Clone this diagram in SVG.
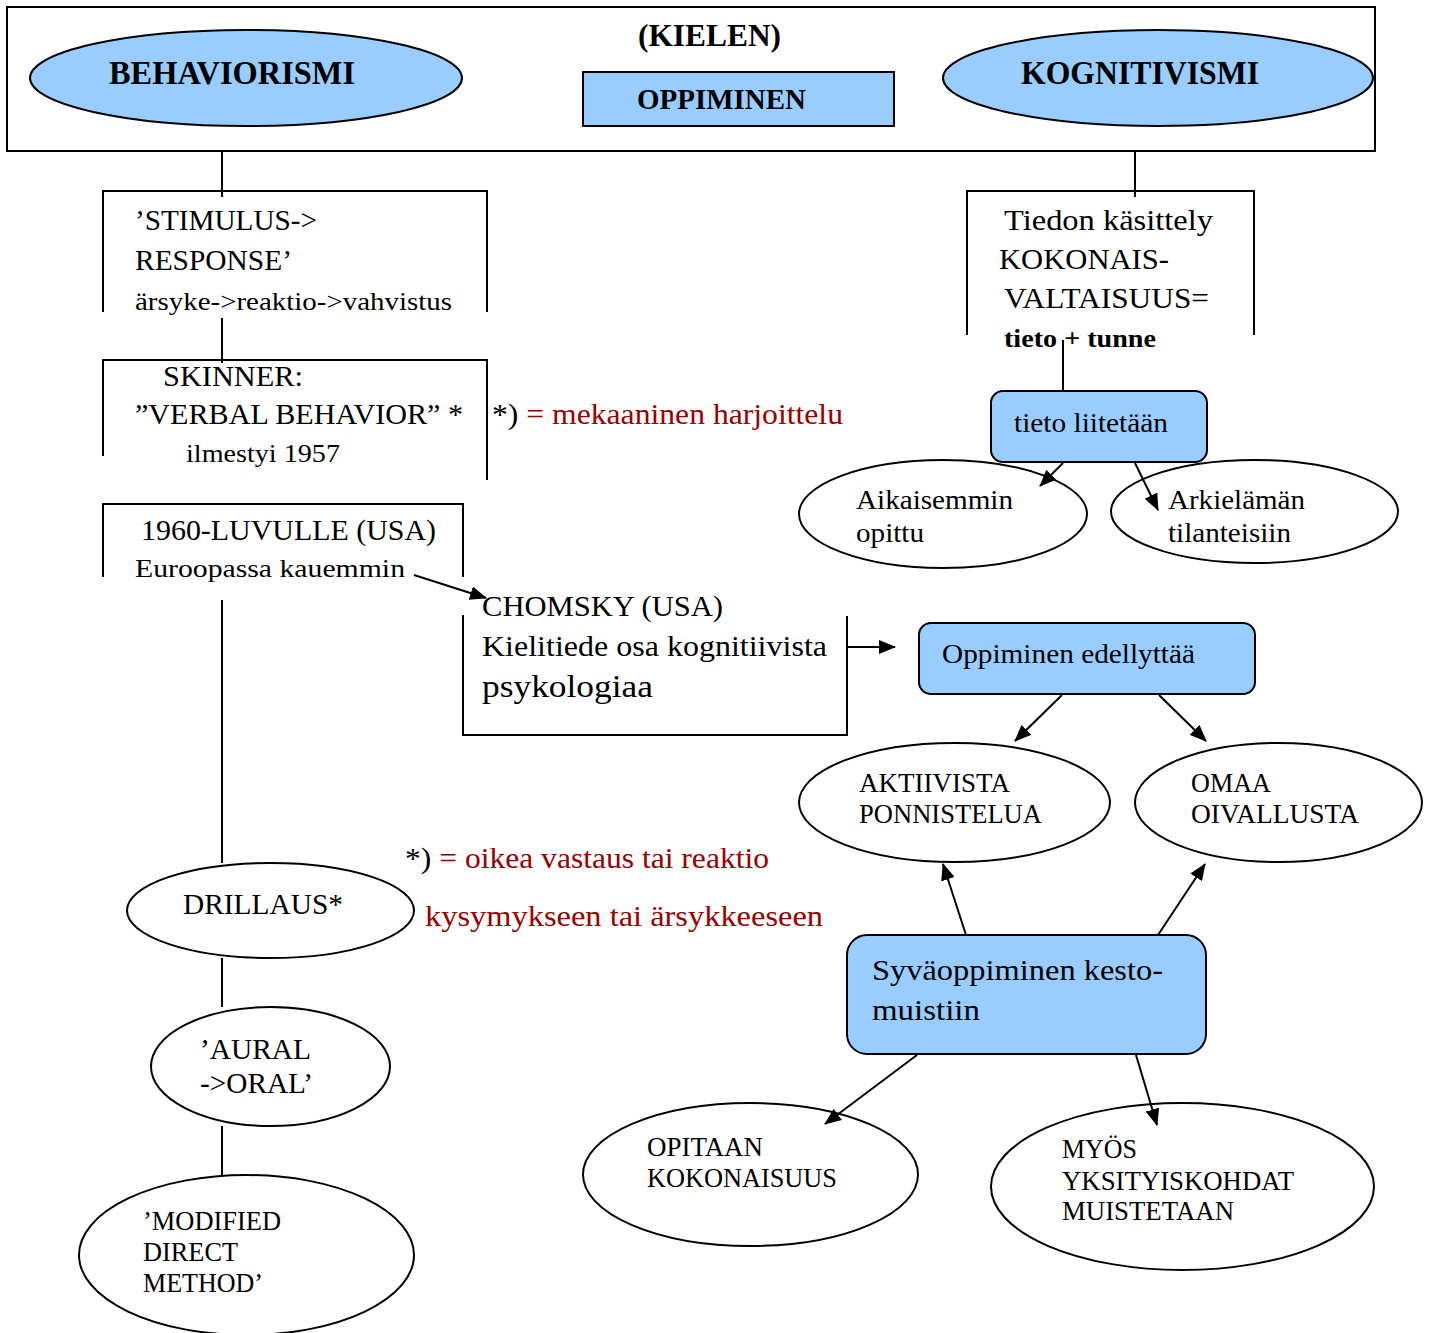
<svg xmlns="http://www.w3.org/2000/svg" width="1429" height="1333" viewBox="0 0 1429 1333">
<style>
text{font-family:"Liberation Serif","Times New Roman",serif;fill:#000}
.b{font-weight:bold}
.red{fill:#990000}
.blue{fill:#99CCFF;stroke:#000;stroke-width:2}
.wh{fill:#fff;stroke:#000;stroke-width:2}
.br{fill:none;stroke:#000;stroke-width:2}
.ln{fill:none;stroke:#000;stroke-width:2}
.ar{fill:none;stroke:#000;stroke-width:2;marker-end:url(#ah)}
</style>
<defs>
<marker id="ah" markerUnits="userSpaceOnUse" markerWidth="18" markerHeight="14" refX="16" refY="7" orient="auto">
<path d="M0,0 L17,7 L0,14 Z" fill="#000"/>
</marker>
</defs>
<rect width="1429" height="1333" fill="#fff"/>

<g id="header">
<rect x="7" y="7" width="1368" height="144" fill="#fff" stroke="#000" stroke-width="2"/>
<text class="b" x="638" y="46" font-size="32" textLength="143" lengthAdjust="spacingAndGlyphs">(KIELEN)</text>
</g>
<g id="behaviorismi">
<ellipse class="blue" cx="246" cy="78" rx="216" ry="48"/>
<text class="b" x="109" y="84" font-size="33" textLength="246" lengthAdjust="spacingAndGlyphs">BEHAVIORISMI</text>
</g>
<g id="oppiminen">
<rect class="blue" x="583" y="72" width="311" height="54"/>
<text class="b" x="637" y="109" font-size="30" textLength="169" lengthAdjust="spacingAndGlyphs">OPPIMINEN</text>
</g>
<g id="kognitivismi">
<ellipse class="blue" cx="1158" cy="78" rx="215" ry="48"/>
<text class="b" x="1021" y="84" font-size="33" textLength="238" lengthAdjust="spacingAndGlyphs">KOGNITIVISMI</text>
</g>

<g id="stimulus">
<path class="br" d="M103,312 V191 H487 V312"/>
<text x="135" y="230" font-size="29" textLength="182" lengthAdjust="spacingAndGlyphs">’STIMULUS-&gt;</text>
<text x="135" y="270" font-size="29" textLength="157" lengthAdjust="spacingAndGlyphs">RESPONSE’</text>
<text x="135" y="310" font-size="26" textLength="317" lengthAdjust="spacingAndGlyphs">ärsyke-&gt;reaktio-&gt;vahvistus</text>
</g>
<g id="skinner">
<path class="br" d="M103,456 V360 H487 V480"/>
<text x="163" y="386" font-size="29" textLength="140" lengthAdjust="spacingAndGlyphs">SKINNER:</text>
<text x="135" y="424" font-size="29" textLength="328" lengthAdjust="spacingAndGlyphs">”VERBAL BEHAVIOR” *</text>
<text x="186" y="462" font-size="26" textLength="154" lengthAdjust="spacingAndGlyphs">ilmestyi 1957</text>
</g>
<g id="note1">
<text x="492" y="424" font-size="29" textLength="351" lengthAdjust="spacingAndGlyphs">*) <tspan class="red">= mekaaninen harjoittelu</tspan></text>
</g>
<g id="luvulle">
<path class="br" d="M103,577 V504 H463 V577"/>
<text x="141" y="540" font-size="29" textLength="295" lengthAdjust="spacingAndGlyphs">1960-LUVULLE (USA)</text>
<text x="135" y="577" font-size="26" textLength="270" lengthAdjust="spacingAndGlyphs">Euroopassa kauemmin</text>
</g>
<g id="chomsky">
<path class="br" d="M463,615 V735 H847 V616"/>
<text x="482" y="616" font-size="29" textLength="241" lengthAdjust="spacingAndGlyphs">CHOMSKY (USA)</text>
<text x="482" y="656" font-size="29" textLength="345" lengthAdjust="spacingAndGlyphs">Kielitiede osa kognitiivista</text>
<text x="482" y="697" font-size="31" textLength="171" lengthAdjust="spacingAndGlyphs">psykologiaa</text>
</g>

<g id="tiedon">
<path class="br" d="M967,335 V191 H1254 V335"/>
<text x="1004" y="230" font-size="29" textLength="209" lengthAdjust="spacingAndGlyphs">Tiedon käsittely</text>
<text x="999" y="269" font-size="29" textLength="170" lengthAdjust="spacingAndGlyphs">KOKONAIS-</text>
<text x="1004" y="308" font-size="29" textLength="205" lengthAdjust="spacingAndGlyphs">VALTAISUUS=</text>
<text class="b" x="1004" y="347" font-size="25" textLength="152" lengthAdjust="spacingAndGlyphs">tieto + tunne</text>
</g>
<g id="liitetaan">
<rect class="blue" x="991" y="391" width="216" height="71" rx="12"/>
<text x="1014" y="432" font-size="28" textLength="154" lengthAdjust="spacingAndGlyphs">tieto liitetään</text>
</g>
<g id="aikaisemmin">
<ellipse class="br" cx="943" cy="514" rx="144" ry="54"/>
<text x="856" y="509" font-size="28" textLength="157" lengthAdjust="spacingAndGlyphs">Aikaisemmin</text>
<text x="856" y="542" font-size="28" textLength="68" lengthAdjust="spacingAndGlyphs">opittu</text>
</g>
<g id="arkielaman">
<ellipse class="br" cx="1254.5" cy="511.5" rx="143.5" ry="51.5"/>
<text x="1168" y="509" font-size="28" textLength="137" lengthAdjust="spacingAndGlyphs">Arkielämän</text>
<text x="1168" y="542" font-size="28" textLength="123" lengthAdjust="spacingAndGlyphs">tilanteisiin</text>
</g>

<g id="edellyttaa">
<rect class="blue" x="919" y="623" width="336" height="71" rx="12"/>
<text x="942" y="663" font-size="28" textLength="253" lengthAdjust="spacingAndGlyphs">Oppiminen edellyttää</text>
</g>
<g id="aktiivista">
<ellipse class="wh" cx="954.5" cy="802.5" rx="155.5" ry="59.5"/>
<text x="859" y="792" font-size="28" textLength="151" lengthAdjust="spacingAndGlyphs">AKTIIVISTA</text>
<text x="859" y="823" font-size="28" textLength="183" lengthAdjust="spacingAndGlyphs">PONNISTELUA</text>
</g>
<g id="omaa">
<ellipse class="wh" cx="1278.5" cy="802.5" rx="143.5" ry="59.5"/>
<text x="1191" y="792" font-size="28" textLength="80" lengthAdjust="spacingAndGlyphs">OMAA</text>
<text x="1191" y="823" font-size="28" textLength="168" lengthAdjust="spacingAndGlyphs">OIVALLUSTA</text>
</g>
<g id="syvaoppiminen">
<rect class="blue" x="847" y="935" width="359" height="119" rx="20"/>
<text x="872" y="980" font-size="30" textLength="291" lengthAdjust="spacingAndGlyphs">Syväoppiminen kesto-</text>
<text x="872" y="1020" font-size="30" textLength="108" lengthAdjust="spacingAndGlyphs">muistiin</text>
</g>
<g id="opitaan">
<ellipse class="wh" cx="750.5" cy="1174.5" rx="167.5" ry="71.5"/>
<text x="647" y="1156" font-size="28" textLength="116" lengthAdjust="spacingAndGlyphs">OPITAAN</text>
<text x="647" y="1187" font-size="28" textLength="190" lengthAdjust="spacingAndGlyphs">KOKONAISUUS</text>
</g>
<g id="myos">
<ellipse class="wh" cx="1182.5" cy="1186.5" rx="191.5" ry="83.5"/>
<text x="1062" y="1158" font-size="28" textLength="75" lengthAdjust="spacingAndGlyphs">MYÖS</text>
<text x="1062" y="1190" font-size="28" textLength="232" lengthAdjust="spacingAndGlyphs">YKSITYISKOHDAT</text>
<text x="1062" y="1220" font-size="28" textLength="172" lengthAdjust="spacingAndGlyphs">MUISTETAAN</text>
</g>

<g id="note2">
<text x="405" y="868" font-size="30" textLength="364" lengthAdjust="spacingAndGlyphs">*) <tspan class="red">= oikea vastaus tai reaktio</tspan></text>
<text class="red" x="425" y="926" font-size="30" textLength="398" lengthAdjust="spacingAndGlyphs">kysymykseen tai ärsykkeeseen</text>
</g>
<g id="drillaus">
<ellipse class="wh" cx="270.5" cy="910.5" rx="143.5" ry="47.5"/>
<text x="183" y="914" font-size="29" textLength="160" lengthAdjust="spacingAndGlyphs">DRILLAUS*</text>
</g>
<g id="aural">
<ellipse class="wh" cx="270.5" cy="1066.5" rx="119.5" ry="59.5"/>
<text x="200" y="1059" font-size="29" textLength="111" lengthAdjust="spacingAndGlyphs">’AURAL</text>
<text x="200" y="1093" font-size="29" textLength="113" lengthAdjust="spacingAndGlyphs">-&gt;ORAL’</text>
</g>
<g id="modified">
<ellipse class="wh" cx="246.5" cy="1255" rx="167.5" ry="80"/>
<text x="143" y="1230" font-size="27" textLength="138" lengthAdjust="spacingAndGlyphs">’MODIFIED</text>
<text x="143" y="1261" font-size="27" textLength="95" lengthAdjust="spacingAndGlyphs">DIRECT</text>
<text x="143" y="1292" font-size="27" textLength="120" lengthAdjust="spacingAndGlyphs">METHOD’</text>
</g>

<g id="connectors">
<line class="ln" x1="222" y1="151" x2="222" y2="197"/>
<line class="ln" x1="222" y1="318" x2="222" y2="363"/>
<line class="ln" x1="222" y1="600" x2="222" y2="863"/>
<line class="ln" x1="222" y1="958" x2="222" y2="1007"/>
<line class="ln" x1="222" y1="1126" x2="222" y2="1175"/>
<line class="ln" x1="1135" y1="151" x2="1135" y2="197"/>
<line class="ln" x1="1063" y1="340" x2="1063" y2="391"/>
<line class="ar" x1="414" y1="575" x2="486" y2="598"/>
<line class="ar" x1="847" y1="647" x2="895" y2="647"/>
<line class="ar" x1="1063" y1="463" x2="1040" y2="486"/>
<line class="ar" x1="1135" y1="463" x2="1158" y2="510"/>
<line class="ar" x1="1062" y1="695" x2="1015" y2="741"/>
<line class="ar" x1="1159" y1="695" x2="1206" y2="741"/>
<line class="ar" x1="966" y1="935" x2="943" y2="864"/>
<line class="ar" x1="1158" y1="935" x2="1205" y2="864"/>
<line class="ar" x1="917" y1="1055" x2="825" y2="1124"/>
<line class="ar" x1="1136" y1="1055" x2="1157" y2="1125"/>
</g>
</svg>
